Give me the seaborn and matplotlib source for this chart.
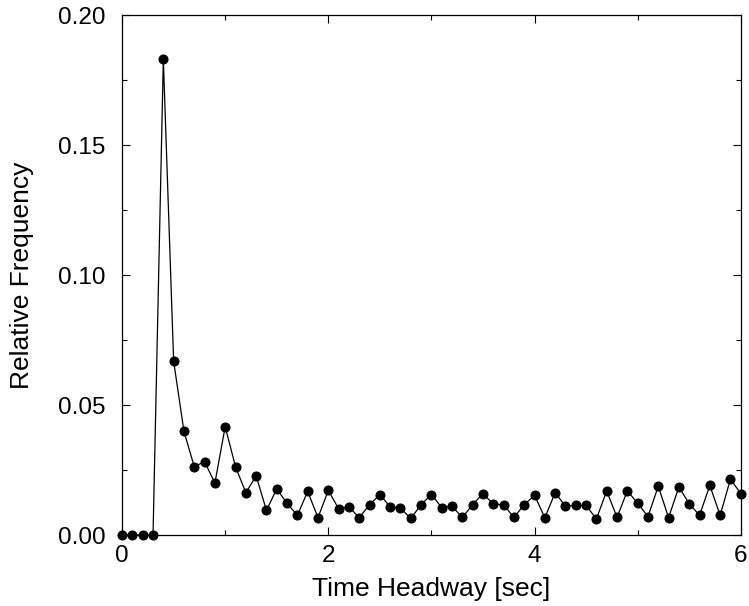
import numpy as np
import pandas as pd
import matplotlib
matplotlib.use("Agg")
import matplotlib.pyplot as plt
import seaborn as sns
from matplotlib.ticker import MultipleLocator

# Time headway bins (sec) and relative frequency
headway = [round(0.1 * i, 1) for i in range(61)]
rel_freq = [
    0.0, 0.0, 0.0, 0.0, 0.183, 0.0669, 0.0399, 0.0263, 0.0283, 0.0200,
    0.0417, 0.0263, 0.0163, 0.0228, 0.0095, 0.0178, 0.0122, 0.0076, 0.0168, 0.0067,
    0.0172, 0.0101, 0.0109, 0.0067, 0.0117, 0.0156, 0.0109, 0.0104, 0.0064, 0.0117,
    0.0156, 0.0106, 0.0111, 0.0068, 0.0117, 0.0160, 0.0119, 0.0117, 0.0068, 0.0117,
    0.0153, 0.0067, 0.0163, 0.0111, 0.0114, 0.0114, 0.0062, 0.0170, 0.0068, 0.0170,
    0.0123, 0.0071, 0.0188, 0.0067, 0.0185, 0.0121, 0.0076, 0.0191, 0.0076, 0.0215,
    0.0160,
]

df = pd.DataFrame({"headway": headway, "freq": rel_freq})

sns.set_style("ticks")
plt.rcParams["font.family"] = ["Liberation Sans", "DejaVu Sans"]
plt.rcParams["text.color"] = "black"
plt.rcParams["axes.labelcolor"] = "black"
plt.rcParams["xtick.color"] = "black"
plt.rcParams["ytick.color"] = "black"

fig = plt.figure(figsize=(7.49, 6.06), dpi=100)
ax = fig.add_axes([0.163, 0.117, 0.826, 0.858])

sns.lineplot(data=df, x="headway", y="freq", ax=ax, color="black",
             linewidth=0.9, marker="o", markersize=6.5, markeredgecolor="black",
             clip_on=False, zorder=5)

ax.set_xlim(0, 6)
ax.set_ylim(0, 0.2)
ax.xaxis.set_major_locator(MultipleLocator(2))
ax.xaxis.set_minor_locator(MultipleLocator(1))
ax.yaxis.set_major_locator(MultipleLocator(0.05))
ax.yaxis.set_minor_locator(MultipleLocator(0.025))
ax.yaxis.set_major_formatter(matplotlib.ticker.FormatStrFormatter("%.2f"))
ax.tick_params(which="both", direction="in", top=True, right=True, labelsize=17.5)
ax.tick_params(which="major", length=6, width=0.8)
ax.tick_params(which="minor", length=3.5, width=0.8)
ax.tick_params(axis="x", pad=7)
ax.tick_params(axis="y", pad=12)
for s in ax.spines.values():
    s.set_linewidth(0.9)
    s.set_color("black")

ax.set_xlabel("Time Headway [sec]", fontsize=19, labelpad=7)
ax.set_ylabel("Relative Frequency", fontsize=19, labelpad=17)

fig.savefig("out.png", dpi=100)
